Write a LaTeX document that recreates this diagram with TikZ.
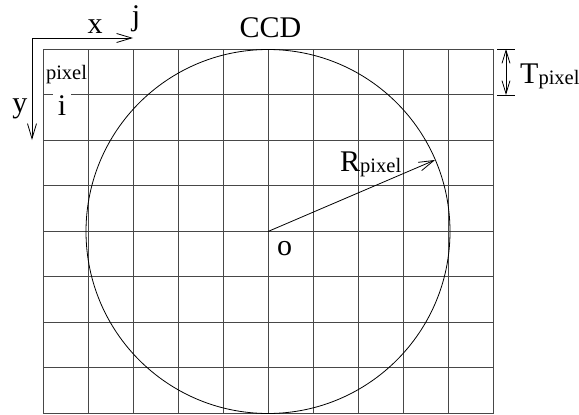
\documentclass[tikz,border=0pt]{standalone}
\usepackage{fontspec}
\setmainfont{Liberation Serif}
\usetikzlibrary{arrows.meta}
\newcommand{\bigtxt}{\fontsize{30}{36}\selectfont}
\newcommand{\smalltxt}{\fontsize{20.5}{24}\selectfont}
\begin{document}
\begin{tikzpicture}[x=1pt,y=-1pt,
  gridline/.style={line width=1pt,black!72},
  curveline/.style={line width=0.8pt,black},
  openarrow/.style={line width=0.8pt,-{Straight Barb[length=15pt,width=9pt,line width=0.8pt]}},
  dimarrow/.style={line width=0.8pt,{Straight Barb[length=13pt,width=8pt,line width=0.8pt]}-{Straight Barb[length=13pt,width=8pt,line width=0.8pt]}},
  lbl/.style={inner sep=0pt,anchor=base,font=\bigtxt},
  sublbl/.style={inner sep=0pt,anchor=base,font=\smalltxt}]
\useasboundingbox (0,0) rectangle (579,415);
% grid
\foreach \i in {0,...,10} \draw[gridline] ({43+45*\i},49) -- ({43+45*\i},413.5);
\foreach \j in {0,...,8} \draw[gridline] (43,{49+45.56*\j}) -- (493,{49+45.56*\j});
% circle
\coordinate (o) at (268,231.5);
\draw[curveline] (o) circle[radius=182];
\coordinate (rtip) at (435,160);
\draw[openarrow] (o) -- (rtip);
% axes
\coordinate (orig) at (32,38);
\coordinate (xend) at (133,38);
\coordinate (yend) at (32,140);
\draw[openarrow] (orig) -- (xend);
\draw[openarrow] (orig) -- (yend);
% T dimension
\coordinate (t1a) at (497,49);
\coordinate (t1b) at (515,49);
\coordinate (t2a) at (497,95);
\coordinate (t2b) at (515,95);
\coordinate (ta) at (506,49);
\coordinate (tb) at (506,95);
\draw[curveline] (t1a) -- (t1b);
\draw[curveline] (t2a) -- (t2b);
\draw[dimarrow] (ta) -- (tb);
% labels
\node[lbl] (ccd) at (270.5,37) {CCD};
\node[lbl] (xl) at (95,33) {x};
\node[lbl] (jl) at (136,26) {j};
\node[lbl] (yl) at (20,112) {y};
\node[sublbl] (pl) at (66.5,79) {pixel};
\node[lbl,fill=white,inner xsep=5pt,inner ysep=1pt] (il) at (62,115) {i};
\node[lbl] (ol) at (284.5,255) {o};
\node[lbl,anchor=base west] (rl) at (340,171) {R\raisebox{-1.5pt}{\smalltxt pixel}};
\node[lbl,anchor=base west] (tl) at (520,83) {T\raisebox{-1.5pt}{\smalltxt pixel}};
\end{tikzpicture}
\end{document}
